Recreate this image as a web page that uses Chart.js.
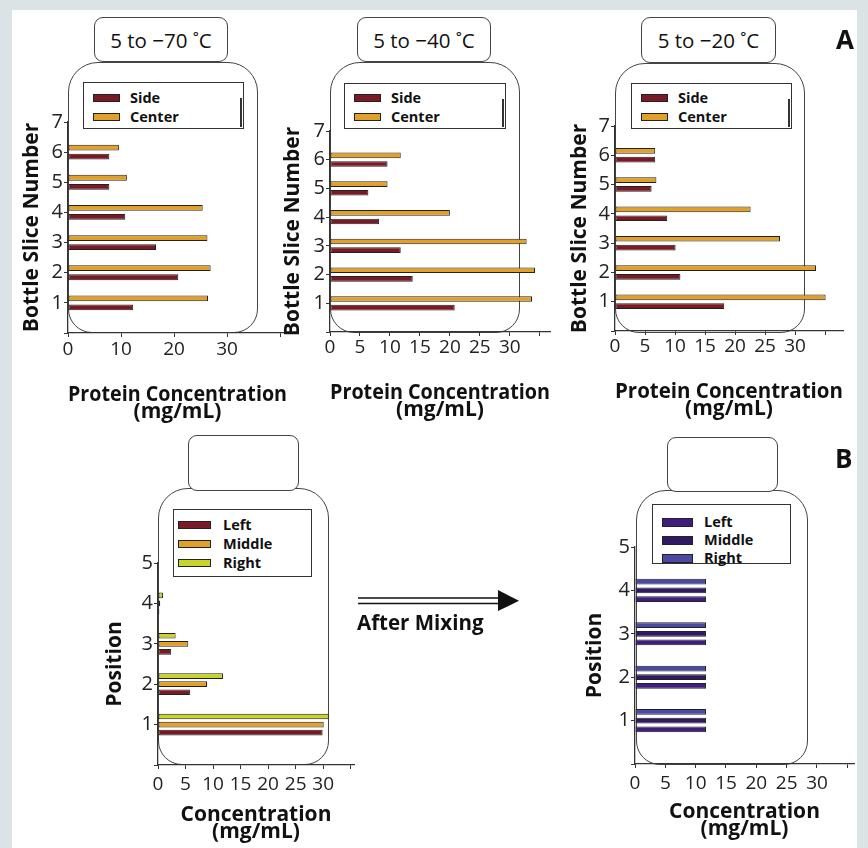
<!DOCTYPE html>
<html><head><meta charset="utf-8">
<script src="https://cdn.jsdelivr.net/npm/chart.js@4.4.1/dist/chart.umd.min.js"></script>
<style>
html,body{margin:0;padding:0;}
body{width:868px;height:848px;background:#dbe3e4;position:relative;overflow:hidden;font-family:"Open Sans",sans-serif;}
#panel{position:absolute;left:12px;top:10px;width:845px;height:838px;background:#fff;}
.bottle{position:absolute;border:1.6px solid #444;border-radius:30px 30px 24px 24px;box-sizing:border-box;}
.cap{position:absolute;border:1.6px solid #444;border-radius:9px;box-sizing:border-box;background:#fff;display:flex;align-items:center;justify-content:center;font-size:20.5px;color:#111;}
.legend{position:absolute;border:1.5px solid #333;background:#fff;box-sizing:border-box;}
.item{position:absolute;font-weight:700;font-size:14.5px;color:#111;line-height:1;transform:translateY(-50%);white-space:nowrap;}
.sw{position:absolute;border:1px solid #222;box-sizing:border-box;}
.cw{position:absolute;}
.big{position:absolute;font-weight:700;font-size:26px;color:#111;line-height:1;}
</style></head><body>
<div id="panel"></div>
<div id="deco"></div>
<div id="charts"></div>
<svg style="position:absolute;left:0;top:0" width="868" height="848">
  <line x1="358" y1="598" x2="500" y2="598" stroke="#111" stroke-width="1.7"/>
  <line x1="358" y1="603.5" x2="500" y2="603.5" stroke="#111" stroke-width="1.7"/>
  <polygon points="498,590 519,600.8 498,611" fill="#111"/>
</svg>
<div style="position:absolute;left:357px;top:610px;font-weight:700;font-size:20.5px;color:#111;line-height:24px;">After Mixing</div>
<div class="big" style="left:836px;top:26px;">A</div>
<div class="big" style="left:835px;top:445px;">B</div>
<script>
// ---------- data ----------
const slices = [1, 2, 3, 4, 5, 6];
const sliceTicks = [1, 2, 3, 4, 5, 6, 7];
const side70   = [12.3, 20.8, 16.6, 10.8, 7.8, 7.8];
const center70 = [26.4, 26.9, 26.3, 25.4, 11.1, 9.6];
const side40   = [20.8, 13.8, 11.8, 8.2, 6.4, 9.6];
const center40 = [33.7, 34.2, 32.8, 20.0, 9.6, 11.8];
const side20   = [18.2, 10.9, 10.1, 8.7, 6.1, 6.7];
const center20 = [35.1, 33.5, 27.5, 22.6, 6.9, 6.7];
const positions = [1, 2, 3, 4];
const positionTicks = [1, 2, 3, 4, 5];
const leftBefore   = [29.9, 5.8, 2.4, 0.25];
const middleBefore = [30.1, 8.9, 5.5, 0.4];
const rightBefore  = [31.0, 11.8, 3.2, 0.9];
const leftAfter   = [11.7, 11.7, 11.7, 11.7];
const middleAfter = [11.7, 11.7, 11.7, 11.7];
const rightAfter  = [11.7, 11.7, 11.7, 11.7];
const capTitles = ['5 to \u221270 \u02DAC', '5 to \u221240 \u02DAC', '5 to \u221220 \u02DAC'];
const xTitleA = ['Protein Concentration', '(mg/mL)'];
const xTitleB = ['Concentration', '(mg/mL)'];
const yTitleA = 'Bottle Slice Number';
const yTitleB = 'Position';

// ---------- colours ----------
const RED = '#7b1a25', ORANGE = '#e0a02a', LIME = '#c8d42c';
const P_LEFT = '#3f1c80', P_MID = '#2f1a63', P_RIGHT = '#4a4aa3';
const FONT = '"Open Sans", sans-serif';

// ---------- decoration (bottles, caps, legends) ----------
const deco = document.getElementById('deco');
function el(cls, css, html) {
  const d = document.createElement('div');
  d.className = cls; d.style.cssText = css; if (html) d.innerHTML = html;
  deco.appendChild(d); return d;
}
function bottle(l, t, r, b) { el('bottle', `left:${l}px;top:${t}px;width:${r-l}px;height:${b-t}px;`); }
function cap(l, t, r, b, txt) { el('cap', `left:${l}px;top:${t}px;width:${r-l}px;height:${b-t}px;`, txt || ''); }
function legend(l, t, w, h, items, swx, sww, swh, tx, mark) {
  el('legend', `left:${l}px;top:${t}px;width:${w}px;height:${h}px;`);
  items.forEach(it => {
    el('sw', `left:${swx}px;top:${it.cy - swh/2}px;width:${sww}px;height:${swh}px;background:${it.color};`);
    el('item', `left:${tx}px;top:${it.cy}px;`, it.label);
  });
  if (mark) el('', `position:absolute;left:${l+w-4}px;top:${t+16}px;width:2px;height:${h-18}px;background:#333;`);
}
bottle(68, 62, 258, 333);  cap(94, 17, 228, 62, capTitles[0]);
bottle(330, 62, 520, 333); cap(357, 17, 491, 62, capTitles[1]);
bottle(615, 63, 805, 333); cap(641, 17, 776, 63, capTitles[2]);
bottle(158, 488, 329, 765); cap(188, 435, 299, 491);
bottle(636, 490, 808, 765); cap(667, 437, 778, 492);

const legA = [{label:'Side', color:RED, cy:98}, {label:'Center', color:ORANGE, cy:117}];
legend(83, 82, 161, 47, legA, 93, 27, 8, 130, true);
legend(344, 83, 162, 46, legA, 354, 27, 8, 391, true);
legend(631, 83, 161, 46, legA, 641, 27, 8, 678, true);
legend(173, 509, 139, 68, [{label:'Left', color:RED, cy:525}, {label:'Middle', color:ORANGE, cy:544}, {label:'Right', color:LIME, cy:563}], 178, 33, 8, 223, false);
legend(652, 504, 139, 60, [{label:'Left', color:P_LEFT, cy:522}, {label:'Middle', color:P_MID, cy:540}, {label:'Right', color:P_RIGHT, cy:558}], 662, 31, 9, 704, false);

// ---------- charts ----------
const holder = document.getElementById('charts');
function pts(cats, vals) { return vals.map((v, i) => ({x: v, y: cats[i]})); }
function ds(label, cats, vals, color) {
  return {label, data: pts(cats, vals), backgroundColor: color, borderColor: '#222', borderWidth: 1, borderSkipped: false};
}
function makeChart(b) {
  const left = b.caL - b.yw, top = b.caT - 15;
  const w = b.caR + 12 - left, h = b.caB + b.xh - top;
  const wrap = document.createElement('div');
  wrap.className = 'cw';
  wrap.style.cssText = `left:${left}px;top:${top}px;width:${w}px;height:${h}px;`;
  const cv = document.createElement('canvas');
  cv.width = w; cv.height = h;
  wrap.appendChild(cv); holder.appendChild(wrap);
  const axisCommon = {
    grid: {drawOnChartArea: false, drawTicks: true, tickLength: 4, color: '#333', lineWidth: 1},
    border: {color: '#333', width: 1.3}
  };
  new Chart(cv, {
    type: 'bar',
    data: {datasets: b.datasets},
    options: {
      responsive: false, animation: false, indexAxis: 'y',
      categoryPercentage: 0.6, barPercentage: b.barPct,
      layout: {padding: {top: 15, right: 12, left: 0, bottom: 0}},
      plugins: {legend: {display: false}, tooltip: {enabled: false}},
      scales: {
        y: Object.assign({}, axisCommon, {
          type: 'linear', min: 0, max: b.yMax, offset: false,
          grid: Object.assign({}, axisCommon.grid, {offset: false}),
          afterFit: s => { s.width = b.yw; },
          afterBuildTicks: s => { s.ticks = [0].concat(b.yTicks).map(v => ({value: v})); },
          ticks: {font: {family: FONT, size: 20}, color: '#222', padding: 1, callback: v => v === 0 ? '' : String(v)},
          title: {display: true, text: b.yTitle, color: '#111', font: {family: FONT, size: 21, weight: 'bold', lineHeight: 1.1}, padding: {top: b.ytp, bottom: 0}}
        }),
        x: Object.assign({}, axisCommon, {
          type: 'linear', min: 0, max: b.xMax,
          afterFit: s => { s.height = b.xh; },
          ticks: {stepSize: b.xStep, includeBounds: false, autoSkip: false, maxRotation: 0,
                  font: {family: FONT, size: 19}, color: '#222', padding: b.xtp,
                  callback: v => v <= 30 ? String(v) : ''},
          title: {display: true, text: b.xTitle, color: '#111', font: {family: FONT, size: 21, weight: 'bold', lineHeight: 0.82}, padding: {top: 0, bottom: b.xpb}}
        })
      }
    }
  });
}

makeChart({caL: 68, caT: 122, caR: 287, caB: 333, yw: 56, xh: 92, ytp: 8.9, xpb: 4.4, xtp: 1,
  xMax: 41.3, xStep: 10, yMax: 7, yTicks: sliceTicks, yTitle: yTitleA, xTitle: xTitleA, barPct: 0.64,
  datasets: [ds('Center', slices, center70, ORANGE), ds('Side', slices, side70, RED)]});
makeChart({caL: 330, caT: 131, caR: 550, caB: 332, yw: 50, xh: 92, ytp: 1.9, xpb: 5.4, xtp: 0,
  xMax: 36.7, xStep: 5, yMax: 7, yTicks: sliceTicks, yTitle: yTitleA, xTitle: xTitleA, barPct: 0.65,
  datasets: [ds('Center', slices, center40, ORANGE), ds('Side', slices, side40, RED)]});
makeChart({caL: 615, caT: 126, caR: 843, caB: 331.5, yw: 50, xh: 92, ytp: 3.9, xpb: 5, xtp: 0,
  xMax: 38, xStep: 5, yMax: 7, yTicks: sliceTicks, yTitle: yTitleA, xTitle: xTitleA, barPct: 0.65,
  datasets: [ds('Center', slices, center20, ORANGE), ds('Side', slices, side20, RED)]});
makeChart({caL: 158, caT: 563, caR: 354, caB: 765, yw: 60, xh: 79, ytp: 5.9, xpb: 3.4, xtp: 4,
  xMax: 35.6, xStep: 5, yMax: 5, yTicks: positionTicks, yTitle: yTitleB, xTitle: xTitleB, barPct: 0.7,
  datasets: [ds('Right', positions, rightBefore, LIME), ds('Middle', positions, middleBefore, ORANGE), ds('Left', positions, leftBefore, RED)]});
makeChart({caL: 635, caT: 547, caR: 854, caB: 764.5, yw: 60, xh: 79, ytp: 8.9, xpb: 5, xtp: 4,
  xMax: 36.1, xStep: 5, yMax: 5, yTicks: positionTicks, yTitle: yTitleB, xTitle: xTitleB, barPct: 0.66,
  datasets: [ds('Right', positions, rightAfter, P_RIGHT), ds('Middle', positions, middleAfter, P_MID), ds('Left', positions, leftAfter, P_LEFT)]});
</script>
</body></html>
